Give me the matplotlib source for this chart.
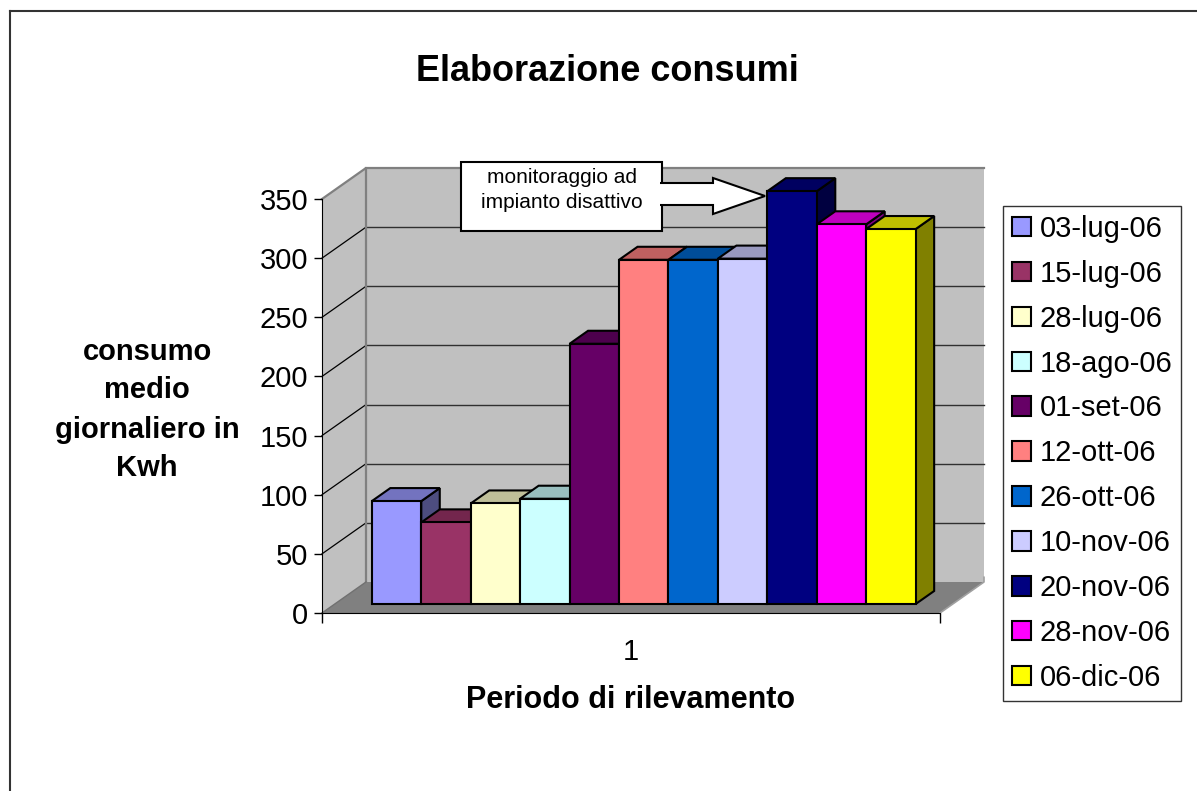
import matplotlib
matplotlib.use("Agg")
import matplotlib.pyplot as plt
from matplotlib.patches import Polygon, Rectangle, Patch
from matplotlib.lines import Line2D
import numpy as np

plt.rcParams['font.family'] = ['Liberation Sans', 'DejaVu Sans']

# ---- data ----
dates = ["03-lug-06", "15-lug-06", "28-lug-06", "18-ago-06", "01-set-06", "12-ott-06",
         "26-ott-06", "10-nov-06", "20-nov-06", "28-nov-06", "06-dic-06"]
values = [87, 69, 85, 89, 220, 291, 291, 292, 349, 321, 317]
colors = ["#9999FF", "#993366", "#FFFFCC", "#CCFFFF", "#660066", "#FF8080",
          "#0066CC", "#CCCCFF", "#000080", "#FF00FF", "#FFFF00"]
yticks = [0, 50, 100, 150, 200, 250, 300, 350]
category_label = "1"
title = "Elaborazione consumi"
ylabel = "consumo\nmedio\ngiornaliero in\nKwh"
xlabel = "Periodo di rilevamento"
note = "monitoraggio ad\nimpianto disattivo"

W, H = 1197, 791
fig = plt.figure(figsize=(W / 100, H / 100), dpi=100)

def fx(px):
    return px / W

def fy(py):
    return 1 - py / H

# outer frame (top and left lines visible)
fig.add_artist(Line2D([fx(10), fx(10)], [fy(11), fy(791)], color="#333333", lw=1.5,
                      transform=fig.transFigure))
fig.add_artist(Line2D([fx(10), fx(1197)], [fy(11), fy(11)], color="#333333", lw=1.5,
                      transform=fig.transFigure))

# axes = front plane of the 3D box
ax = fig.add_axes([fx(322), fy(613), (940 - 322) / W, (613 - 199) / H])
n = len(values)
x0, x1 = -0.75, n + 0.75
ax.set_xlim(x0, x1)
ax.set_ylim(0, 350)
ax.patch.set_visible(False)
for s in ("top", "right"):
    ax.spines[s].set_visible(False)
ax.spines["left"].set_zorder(6)
ax.spines["bottom"].set_zorder(6)

# depth of the box in data units (pixel offsets 44 right, 31 up)
DX = 44 / (618 / (x1 - x0))
DY = 31 / (414 / 350)
f, b = 0.29, 0.71  # bar front/back depth fractions

wall = "#C0C0C0"
floor = "#808080"
# back wall
ax.add_patch(Polygon([(x0 + DX, DY), (x1 + DX, DY), (x1 + DX, 350 + DY), (x0 + DX, 350 + DY)],
                     closed=True, facecolor=wall, edgecolor="none", zorder=0.5, clip_on=False))
# left wall
ax.add_patch(Polygon([(x0, 0), (x0, 350), (x0 + DX, 350 + DY), (x0 + DX, DY)],
                     closed=True, facecolor=wall, edgecolor="none", zorder=0.5, clip_on=False))
# floor
ax.add_patch(Polygon([(x0, 0), (x1, 0), (x1 + DX, DY), (x0 + DX, DY)],
                     closed=True, facecolor=floor, edgecolor="none", zorder=0.6, clip_on=False))
# gridlines on back wall and left wall
for v in yticks[1:]:
    ax.plot([x0 + DX, x1 + DX], [v + DY, v + DY], color="#303030" if v < 350 else "#808080",
            lw=1.0 if v < 350 else 1.6, zorder=0.7, clip_on=False)
    if v < 350:
        ax.plot([x0, x0 + DX], [v, v + DY], color="black", lw=0.9, zorder=0.7, clip_on=False)
# wall edges
ax.plot([x0, x0 + DX, x0 + DX], [350, 350 + DY, DY], color="#808080", lw=1.6, zorder=0.8, clip_on=False)
ax.plot([x0 + DX, x0], [DY, 0], color="#707070", lw=1.0, zorder=0.8, clip_on=False)
ax.plot([x1, x1 + DX, x1 + DX], [0, DY, DY + 4], color="#A0A0A0", lw=1.2, zorder=0.8, clip_on=False)

# bars
def shade(c, k):
    rgb = np.array(matplotlib.colors.to_rgb(c)) * k
    return tuple(rgb)

xs = np.arange(n)
bars = ax.bar(xs + f * DX, values, width=1.0, bottom=f * DY, align="edge",
              color=colors, edgecolor="black", linewidth=1.5, clip_on=False)
for i, (v, c) in enumerate(zip(values, colors)):
    z = 2 + i * 0.01
    side = [(i + 1 + f * DX, f * DY), (i + 1 + f * DX, v + f * DY),
            (i + 1 + b * DX, v + b * DY), (i + 1 + b * DX, b * DY)]
    top = [(i + f * DX, v + f * DY), (i + 1 + f * DX, v + f * DY),
           (i + 1 + b * DX, v + b * DY), (i + b * DX, v + b * DY)]
    ax.add_patch(Polygon(side, closed=True, facecolor=shade(c, 0.5), edgecolor="black",
                         lw=1.5, joinstyle="miter", zorder=z, clip_on=False))
    ax.add_patch(Polygon(top, closed=True, facecolor=shade(c, 0.75), edgecolor="black",
                         lw=1.5, joinstyle="miter", zorder=z + 0.002, clip_on=False))
    bars.patches[i].set_zorder(z + 0.005)

# axes ticks
ax.set_yticks(yticks)
ax.set_yticklabels([str(t) for t in yticks])
ax.tick_params(axis="y", length=6, width=1, pad=4, labelsize=21, direction="out")
ax.set_xticks([n / 2], [category_label])
ax.set_xticks([x0, x1], minor=True)
ax.tick_params(axis="x", which="major", length=0, pad=18, labelsize=21)
ax.tick_params(axis="x", which="minor", length=7, width=1, direction="out")

ax.set_xlabel(xlabel, fontsize=22, fontweight="bold", labelpad=14)
ax.set_ylabel(ylabel, fontsize=21, fontweight="bold", rotation=0, ha="center", va="center",
              linespacing=1.5)
ax.yaxis.set_label_coords((147 - 322) / 618, (613 - 410) / 414)

# title
fig.text(fx(607), fy(81), title, ha="center", va="baseline", fontsize=26, fontweight="bold")

# annotation box + block arrow
fig.add_artist(Rectangle((fx(461), fy(231)), (662 - 461) / W, (231 - 162) / H,
                         facecolor="white", edgecolor="black", lw=1.5,
                         transform=fig.transFigure, zorder=5))
arrow_px = [(660, 183), (713, 183), (713, 178), (765, 196), (713, 214), (713, 205), (660, 205)]
fig.add_artist(Polygon([(fx(px), fy(py)) for px, py in arrow_px], closed=False,
                       facecolor="white", edgecolor="black", lw=1.5, joinstyle="miter",
                       transform=fig.transFigure, zorder=5.1))
fig.text(fx(562), fy(190), note, ha="center", va="center", fontsize=15, linespacing=1.4,
         zorder=6)

# legend
handles = [Patch(facecolor=c, edgecolor="black", linewidth=1.5) for c in colors]
leg = fig.legend(handles, dates, loc="upper left", bbox_to_anchor=(fx(1003), fy(206)),
                 bbox_transform=fig.transFigure, fontsize=21, frameon=True, fancybox=False,
                 edgecolor="black", handlelength=0.65, handleheight=0.65, handletextpad=0.3,
                 labelspacing=0.58, borderpad=0.3, borderaxespad=0)
leg.get_frame().set_linewidth(1.0)

fig.savefig("out.png", dpi=100, facecolor="white")
